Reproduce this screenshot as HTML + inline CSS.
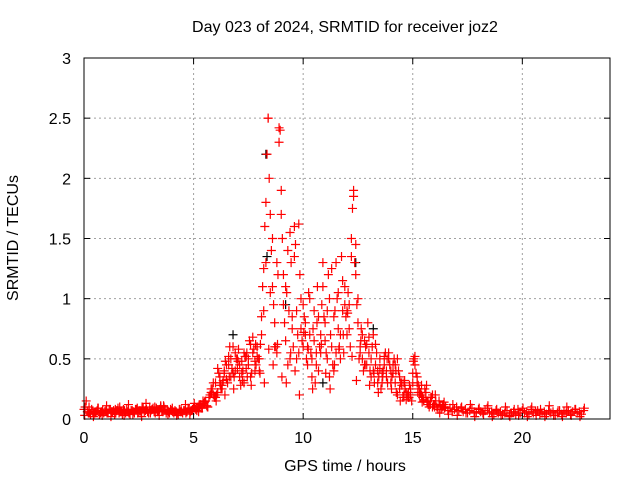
<!DOCTYPE html>
<html><head><meta charset="utf-8"><style>
body{margin:0;background:#fff;}
svg text{font-family:"Liberation Sans",sans-serif;font-size:16px;fill:#000;}
</style></head><body>
<svg id="chart" width="640" height="480" viewBox="0 0 640 480" xmlns="http://www.w3.org/2000/svg">
<rect width="640" height="480" fill="#fff"/>
<g id="grid"></g>
<g id="pts"></g>
<rect x="84" y="58" width="526" height="361" fill="none" stroke="#000" stroke-width="1"/>
<g id="ticks"></g>
<text x="345" y="32" text-anchor="middle">Day 023 of 2024, SRMTID for receiver joz2</text>
<text x="345" y="471" text-anchor="middle">GPS time / hours</text>
<text transform="translate(18,238) rotate(-90)" text-anchor="middle">SRMTID / TECUs</text>
</svg>
<script>
const xTicks=[0,5,10,15,20];
const yTicks=[0,0.5,1,1.5,2,2.5,3];
const yTickLabels=["0","0.5","1","1.5","2","2.5","3"];
const seriesAStart=0.0;
const seriesAValues=[0.08,0.15,0.05,0.04,0.06,0.05,0.07,0.04,0.06,0.05,
0.07,0.05,0.08,0.06,0.04,0.07,0.05,0.06,0.08,0.05,
0.06,0.04,0.07,0.05,0.08,0.06,0.05,0.09,0.07,0.06,
0.1,0.08,0.06,0.09,0.07,0.11,0.06,0.08,0.07,0.05,
0.07,0.05,0.06,0.04,0.06,0.05,0.07,0.06,0.08,0.07,
0.09,0.08,0.1,0.12,0.09,0.14,0.11,0.18,0.25,0.2,
0.3,0.22,0.35,0.28,0.4,0.33,0.45,0.5,0.38,0.55,
0.42,0.35,0.48,0.3,0.52,0.45,0.62,0.55,0.48,0.6,
0.4,0.7,0.9,1.3,2.5,1.7,1.1,0.8,0.55,2.3,
1.9,1.2,0.65,1.4,0.5,0.75,1.6,0.9,0.55,1.0,
0.6,0.8,0.45,0.7,0.35,0.9,0.55,0.4,0.7,1.3,
0.8,0.5,1.0,0.6,0.4,1.3,0.75,0.5,0.9,1.1,
0.7,0.95,1.5,1.85,1.2,0.8,0.6,0.5,0.65,0.45,
0.55,0.35,0.7,0.45,0.4,0.5,0.3,0.45,0.35,0.5,
0.4,0.45,0.3,0.5,0.25,0.3,0.2,0.22,0.18,0.25,
0.3,0.45,0.35,0.25,0.2,0.15,0.18,0.12,0.15,0.2,
0.12,0.1,0.15,0.08,0.12,0.1,0.07,0.09,0.06,0.08,
0.1,0.07,0.09,0.06,0.08,0.05,0.07,0.09,0.06,0.05,
0.08,0.06,0.05,0.07,0.09,0.05,0.06,0.04,0.07,0.05,
0.06,0.04,0.05,0.07,0.03,0.05,0.06,0.04,0.08,0.05,
0.07,0.05,0.06,0.04,0.08,0.05,0.06,0.07,0.04,0.05,
0.06,0.04,0.07,0.05,0.06,0.03,0.05,0.07,0.04,0.06,
0.05,0.07,0.04,0.06,0.08,0.05,0.06,0.04,0.07];
const seriesBStart=5.55;
const seriesBValues=[0.15,0.1,0.2,0.25,0.18,
0.2,0.38,0.25,0.32,0.48,0.3,0.6,0.42,0.35,0.5,
0.58,0.28,0.4,0.52,0.35,0.65,0.38,0.58,0.45,0.5,
0.62,1.1,1.6,2.2,2.0,1.4,0.95,0.6,1.2,2.4,
1.5,0.8,1.05,0.9,1.3,0.6,1.45,0.7,1.2,0.65,
0.85,0.5,1.05,0.55,0.75,0.3,1.1,0.6,0.95,0.85,
0.55,1.2,0.7,0.45,0.9,1.0,0.6,1.35,0.55,0.85,
1.05,0.6,1.75,1.3,0.95,0.5,0.75,0.4,0.6,0.8,
0.4,0.6,0.3,0.55,0.35,0.25,0.4,0.55,0.3,0.45,
0.35,0.5,0.22,0.4,0.3,0.18,0.25,0.2,0.28,0.15,
0.5,0.38,0.28,0.22,0.18,0.25,0.14,0.1,0.18,0.12,
0.15,0.08,0.11,0.1,0.09];
const seriesCStart=0.05;
const seriesCValues=[0.1,0.06,0.05,0.08,0.04,0.06,0.09,0.05,0.07,0.06,
0.05,0.08,0.06,0.07,0.05,0.09,0.06,0.04,0.07,0.08,
0.05,0.07,0.06,0.08,0.05,0.07,0.1,0.06,0.08,0.05,
0.07,0.09,0.05,0.06,0.08,0.07,0.1,0.05,0.06,0.08,
0.06,0.07,0.05,0.08,0.06,0.07,0.05,0.09,0.06,0.08,
0.1,0.07,0.11,0.09,0.13];
const seriesDStart=5.8;
const seriesDValues=[0.22,0.3,
0.18,0.42,0.3,0.25,0.38,0.45,0.52,0.35,0.6,0.4,
0.5,0.45,0.38,0.55,0.42,0.5,0.35,0.68,0.4,0.52,
0.5,0.85,1.25,1.8,2.5,1.05,1.5,0.6,1.3,2.42,
1.7,0.95,1.1,0.45,1.55,0.85,1.35,0.5,1.62,0.75,
0.95,0.7,0.6,1.0,0.5,0.65,0.45,0.85,0.55,1.1,
0.65,0.9,0.35,1.25,0.85,0.55,1.05,0.7,1.15,0.95,
0.9,0.75,1.35,1.9,1.45,1.0,0.55,0.7,0.45,0.62,
0.68,0.5,0.4,0.62,0.3,0.42,0.38,0.52,0.4,0.55,
0.3,0.38,0.45,0.2,0.35,0.28,0.3,0.16,0.22,0.2,
0.38,0.52,0.3,0.2,0.28,0.16,0.22,0.15,0.12,0.1,
0.1];
const seriesEStart=0.03;
const seriesEValues=[0.03,0.1,0.02,0.09,0.03,0.11,0.02,0.08,0.1,0.03,
0.12,0.04,0.09,0.02,0.13,0.05,0.1,0.03,0.11,0.04,
0.09,0.03,0.08,0.12,0.04,0.13,0.06,0.15,0.1,0.22,
0.15,0.28,0.2,0.35,0.25,0.48,0.32,0.55,0.28,0.62,
0.38,0.3,0.58,0.45,0.62,0.35,0.3,0.55,0.4,0.2,
0.72,0.58,0.25,0.8,0.62,0.38,0.25,0.45,0.58,0.7,
0.88,0.52,0.32,0.65,0.45,0.28,0.38,0.22,0.35,0.5,
0.25,0.4,0.15,0.32,0.18,0.48,0.22,0.14,0.28,0.18,
0.2,0.05,0.14,0.04,0.12,0.03,0.1,0.05,0.12,0.02,
0.09,0.04,0.11,0.02,0.08,0.03,0.1,0.02,0.08,0.03,
0.09,0.02,0.1,0.03,0.08,0.02,0.11,0.03,0.07,0.02,
0.1,0.03,0.08,0.02,0.09];
const blackTimes=[6.8,8.3,8.35,9.2,10.9,12.4,13.2,3.5];
const blackValues=[0.7,2.2,1.35,0.95,0.3,1.3,0.75,0.1];

const X0=84,X1=610,Y0=419,Y1=58;
const xs=h=>X0+h*(X1-X0)/24;
const ys=v=>Y0-v*(Y0-Y1)/3;
const NS="http://www.w3.org/2000/svg";
function mk(t,a,p){const e=document.createElementNS(NS,t);for(const k in a)e.setAttribute(k,a[k]);p.appendChild(e);return e;}
const grid=document.getElementById('grid'),ticks=document.getElementById('ticks'),pts=document.getElementById('pts');
xTicks.forEach(t=>{
  const x=xs(t);
  if(t>0){const g=mk('line',{x1:x,x2:x,y1:Y1,y2:Y0,stroke:'#a0a0a0','stroke-dasharray':'2,3'},grid);
  
  }
  mk('line',{x1:x,x2:x,y1:Y0,y2:Y0-6,stroke:'#000'},ticks);
  mk('line',{x1:x,x2:x,y1:Y1,y2:Y1+6,stroke:'#000'},ticks);
  const l=mk('text',{x:x,y:Y0+24,'text-anchor':'middle'},ticks);l.textContent=t;
  
  
});
yTicks.forEach((t,i)=>{
  const y=ys(t);
  if(t>0&&t<3){const g=mk('line',{x1:X0,x2:X1,y1:y,y2:y,stroke:'#a0a0a0','stroke-dasharray':'2,3'},grid);
  
  }
  mk('line',{x1:X0,x2:X0+6,y1:y,y2:y,stroke:'#000'},ticks);
  mk('line',{x1:X1,x2:X1-6,y1:y,y2:y,stroke:'#000'},ticks);
  const l=mk('text',{x:X0-13,y:y+6,'text-anchor':'end'},ticks);l.textContent=yTickLabels[i];
  
  
});
function plus(h,v,c){
  const x=xs(h),y=ys(v);
  const p=mk('path',{d:`M${x-4.5} ${y}H${x+4.5}M${x} ${y-4.5}V${y+4.5}`,stroke:c,'stroke-width':1.2,fill:'none'},pts);
  
  
}
blackTimes.forEach((t,i)=>plus(t,blackValues[i],'#000'));
seriesCValues.forEach((v,i)=>plus(seriesCStart+i*0.1,v,'#ff0000'));
seriesEValues.forEach((v,i)=>plus(seriesEStart+i*0.2,v,'#ff0000'));
seriesAValues.forEach((v,i)=>plus(seriesAStart+i*0.1,v,'#ff0000'));
seriesBValues.forEach((v,i)=>plus(seriesBStart+i*0.1,v,'#ff0000'));
seriesDValues.forEach((v,i)=>plus(seriesDStart+i*0.1,v,'#ff0000'));
</script>
</body></html>
